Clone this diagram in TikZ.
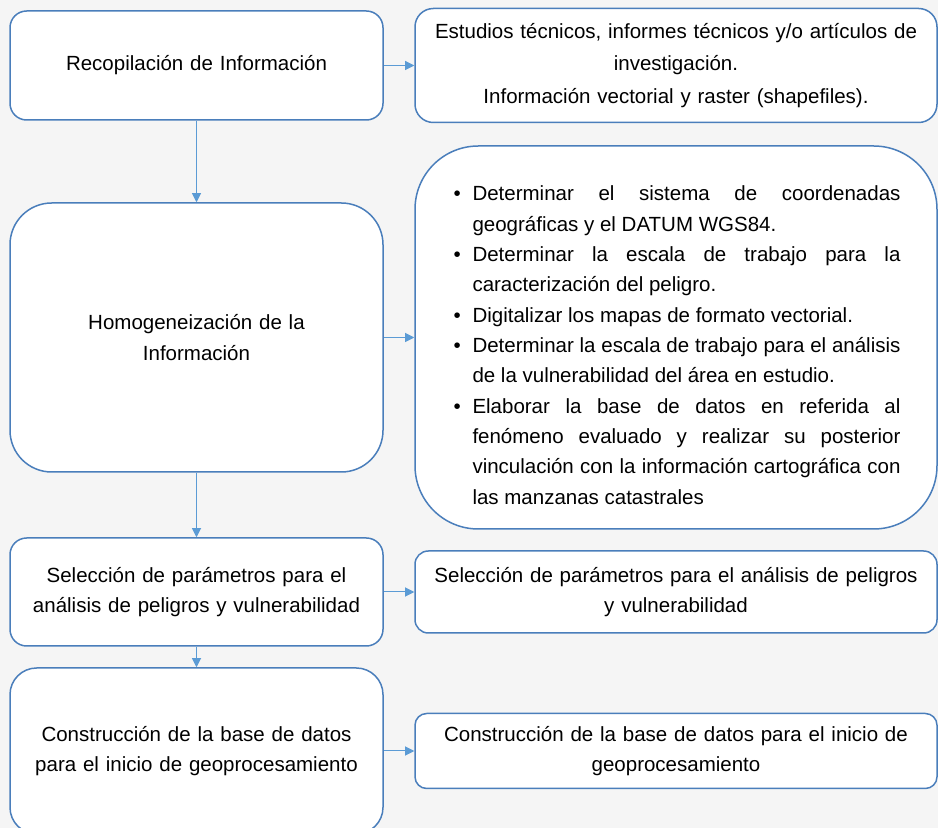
\documentclass[tikz,border=0pt]{standalone}
\usepackage{fontspec}
\setmainfont{Liberation Sans}
\usepackage{enumitem}
\usetikzlibrary{arrows.meta}

\definecolor{boxline}{HTML}{4A7EBB}
\definecolor{arrowline}{HTML}{5B9BD5}
\definecolor{bgpaper}{HTML}{F5F5F5}

\begin{document}
\begin{tikzpicture}[
    font=\fontsize{12.3}{18.2}\selectfont,
    stage/.style={draw=boxline, line width=0.9pt, fill=white, text width=215pt,
      align=center, minimum width=223.8pt, inner sep=4pt},
    detail/.style={stage, text width=300pt, minimum width=313.2pt},
    flow/.style={draw=arrowline, line width=0.6pt, -{Triangle[length=5.5pt,width=5.5pt]}}]

    % Page
    \useasboundingbox (0,0) rectangle (562.8pt,-496.8pt);
    \fill[bgpaper] (0,0) rectangle (562.8pt,-496.8pt);

    % Main steps
    \node[stage, rounded corners=10pt, minimum height=65.4pt] (recop) at (117.9pt,-39.3pt) {Recopilación de Información};
    \node[stage, rounded corners=25pt, minimum height=161.4pt, node distance=163.2pt, below of=recop] (homog) {Homogeneización de la\\Información};
    \node[stage, rounded corners=10pt, minimum height=64.8pt, node distance=152.7pt, below of=homog] (param) {Selección de parámetros para el\\análisis de peligros y vulnerabilidad};
    \node[stage, rounded corners=16pt, minimum height=99.6pt, node distance=95.4pt, below of=param] (constr) {Construcción de la base de datos\\para el inicio de geoprocesamiento};

    % Details
    \node[detail, rounded corners=11pt, minimum height=68.4pt, node distance=287.7pt, right of=recop, font=\fontsize{12.3}{19.6}\selectfont] (fuentes) {Estudios técnicos, informes técnicos y/o artículos de\\investigación.\\Información vectorial y raster (shapefiles).};
    \node[detail, rounded corners=38pt, minimum height=229.8pt, node distance=287.7pt, right of=homog, text width=269.4pt, align=justify] (tareas) {%
      \hyphenpenalty=10000
      \begin{itemize}[nosep, leftmargin=12.6pt, labelsep=7pt, label=\textbullet]
        \item Determinar el sistema de coordenadas\linebreak geográficas y el DATUM WGS84.
        \item Determinar la escala de trabajo para la\linebreak caracterización del peligro.
        \item Digitalizar los mapas de formato vectorial.
        \item Determinar la escala de trabajo para el análisis\linebreak de la vulnerabilidad del área en estudio.
        \item Elaborar la base de datos en referida al\linebreak fenómeno evaluado y realizar su posterior\linebreak vinculación con la información cartográfica con\linebreak las manzanas catastrales
      \end{itemize}};
    \node[detail, rounded corners=8pt, minimum height=49.2pt, node distance=287.7pt, right of=param] (seleccion) {Selección de parámetros para el análisis de peligros\\y vulnerabilidad};
    \node[detail, rounded corners=7pt, minimum height=45pt, node distance=287.7pt, right of=constr] (base) {Construcción de la base de datos para el inicio de\\geoprocesamiento};

    % Arrows
    \draw[flow] (recop) -- (homog);
    \draw[flow] (homog) -- (param);
    \draw[flow] (param) -- (constr);
    \draw[flow] (recop) -- (fuentes);
    \draw[flow] (homog) -- (tareas);
    \draw[flow] (param) -- (seleccion);
    \draw[flow] (constr) -- (base);
\end{tikzpicture}
\end{document}
